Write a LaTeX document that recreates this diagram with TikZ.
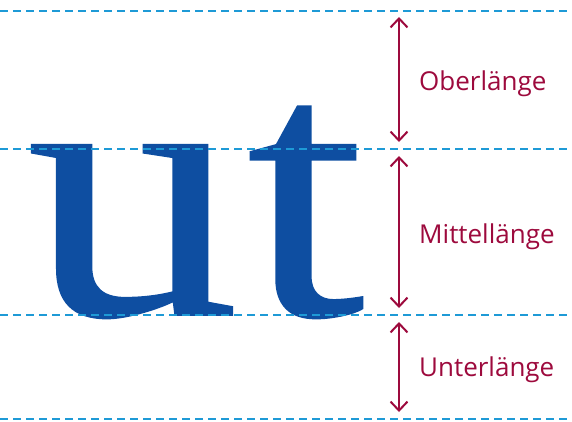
\documentclass[tikz,border=0pt]{standalone}
\usepackage{fontspec}
\setmainfont{Liberation Serif}
\newfontfamily\glyphfont[FakeBold=0.4]{Liberation Serif}
\newfontfamily\labelfont{Open Sans}
\usetikzlibrary{arrows.meta}
\definecolor{glyphblue}{HTML}{0E4EA1}
\definecolor{guideblue}{HTML}{1E9AD6}
\definecolor{labelred}{HTML}{9D0A3D}
\begin{document}
\begin{tikzpicture}[x=1pt,y=-1pt,
  guide/.style={guideblue, line width=2pt, dash pattern=on 8pt off 5pt},
  barb/.tip={Straight Barb[length=9pt,width=17pt,line width=2pt]},
  measure/.style={labelred, line width=2pt, barb-barb},
  lbl/.style={labelred, font=\labelfont\fontsize{26}{26}\selectfont, anchor=base west, inner sep=0pt},
  glyphs/.style={glyphblue, font=\glyphfont\fontsize{371}{371}\selectfont, anchor=base west, inner sep=0pt, xscale=1.15}]
\useasboundingbox (0,0) rectangle (572,421);
% guide lines
\coordinate (g1l) at (0,11);   \coordinate (g1r) at (572,11);
\coordinate (g2l) at (0,149);  \coordinate (g2r) at (572,149);
\coordinate (g3l) at (0,315);  \coordinate (g3r) at (572,315);
\coordinate (g4l) at (0,419);  \coordinate (g4r) at (572,419);
% letters
\node[glyphs] (ut) at (26,315) {u\kern6pt t};
\draw[guide] (g1l) -- (g1r);
\draw[guide] (g2l) -- (g2r);
\draw[guide] (g3l) -- (g3r);
\draw[guide] (g4l) -- (g4r);
% measures
\coordinate (a1t) at (399,17);  \coordinate (a1b) at (399,142);
\coordinate (a2t) at (399,156); \coordinate (a2b) at (399,308);
\coordinate (a3t) at (399,322); \coordinate (a3b) at (399,412);
\draw[measure] (a1t) -- (a1b);
\draw[measure] (a2t) -- (a2b);
\draw[measure] (a3t) -- (a3b);
\node[lbl] (ober) at (419,90) {Oberlänge};
\node[lbl] (mittel) at (419,243) {Mittellänge};
\node[lbl] (unter) at (419,376) {Unterlänge};
\end{tikzpicture}
\end{document}
